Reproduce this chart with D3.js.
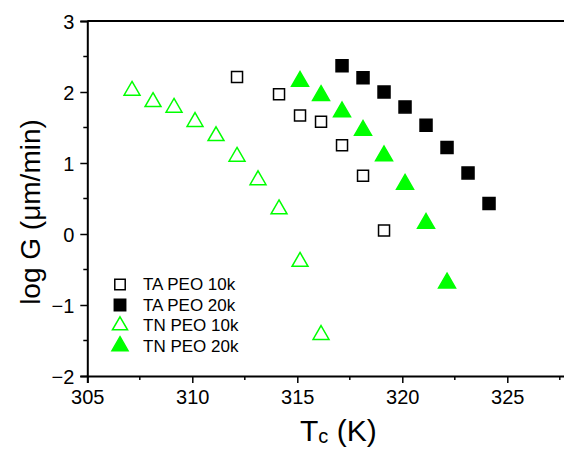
<!DOCTYPE html>
<html><head><meta charset="utf-8">
<script src="https://cdn.jsdelivr.net/npm/d3@7"></script>
<style>body{margin:0;background:#fff}svg{display:block;font-family:Arial,"Liberation Sans",sans-serif}</style>
</head><body><svg id="c" width="564" height="449"></svg>
<script>
const taPeo10kX = [312.13, 314.13, 315.13, 316.13, 317.13, 318.13, 319.13];
const taPeo10kY = [2.21, 1.97, 1.67, 1.58, 1.25, 0.82, 0.05];
const taPeo20kX = [317.13, 318.13, 319.13, 320.13, 321.13, 322.13, 323.13, 324.13];
const taPeo20kY = [2.37, 2.20, 2.00, 1.79, 1.53, 1.22, 0.86, 0.43];
const tnPeo10kX = [307.13, 308.13, 309.13, 310.13, 311.13, 312.13, 313.13, 314.13, 315.13, 316.13];
const tnPeo10kY = [2.02, 1.86, 1.78, 1.58, 1.38, 1.09, 0.76, 0.35, -0.39, -1.42];
const tnPeo20kX = [315.13, 316.13, 317.13, 318.13, 319.13, 320.13, 321.13, 322.13];
const tnPeo20kY = [2.15, 1.95, 1.72, 1.46, 1.10, 0.70, 0.15, -0.69];
const xTicks = [305, 310, 315, 320, 325];
const yTicks = [-2, -1, 0, 1, 2, 3];
const legendLabels = ["TA PEO 10k", "TA PEO 20k", "TN PEO 10k", "TN PEO 20k"];

const svg = d3.select("#c");
const L = 87.3, T = 21, B = 376;
const x = d3.scaleLinear().domain([305, 328]).range([L, L + 23 * 21]);
const y = d3.scaleLinear().domain([-2, 3]).range([B, T]);
const green = "#00ff00";

const series = [
  {xs: taPeo10kX, ys: taPeo10kY, type: d3.symbolSquare, fill: "#fff", stroke: "#000", size: 121},
  {xs: taPeo20kX, ys: taPeo20kY, type: d3.symbolSquare, fill: "#000", stroke: "#000", size: 144},
  {xs: tnPeo10kX, ys: tnPeo10kY, type: d3.symbolTriangle, fill: "#fff", stroke: green, size: 110},
  {xs: tnPeo20kX, ys: tnPeo20kY, type: d3.symbolTriangle, fill: green, stroke: green, size: 125}
];

// axes
const xAxis = d3.axisBottom(x).tickValues(xTicks).tickFormat(d3.format("d")).tickSize(7).tickPadding(7);
const yAxis = d3.axisLeft(y).tickValues(yTicks).tickFormat(d3.format("d")).tickSize(7).tickPadding(6);
const gx = svg.append("g").attr("transform", `translate(0,${B})`).call(xAxis);
const gy = svg.append("g").attr("transform", `translate(${L},0)`).call(yAxis);
[gx, gy].forEach(g => {
  g.select(".domain").attr("stroke", "#000").attr("stroke-width", 2);
  g.selectAll(".tick line").attr("stroke", "#000").attr("stroke-width", 1.5);
  g.selectAll(".tick text").attr("font-size", 20).attr("fill", "#000").attr("font-family", "Arial, 'Liberation Sans', sans-serif");
});
gy.selectAll(".tick text").attr("dy", "0.36em");
// minor ticks
const xMinor = d3.range(307.5, 328, 5);
svg.append("g").selectAll("line").data(xMinor).join("line")
  .attr("x1", d => x(d)).attr("x2", d => x(d)).attr("y1", B).attr("y2", B + 4)
  .attr("stroke", "#000").attr("stroke-width", 1.5);
const yMinor = d3.range(-1.5, 3, 1);
svg.append("g").selectAll("line").data(yMinor).join("line")
  .attr("x1", L - 4).attr("x2", L).attr("y1", d => y(d)).attr("y2", d => y(d))
  .attr("stroke", "#000").attr("stroke-width", 1.5);
// top frame
svg.append("line").attr("x1", L).attr("x2", x(328)).attr("y1", T).attr("y2", T)
  .attr("stroke", "#000").attr("stroke-width", 2);

// data
series.forEach(s => {
  const sym = d3.symbol().type(s.type).size(s.size);
  svg.append("g").selectAll("path").data(s.xs.map((v, i) => [v, s.ys[i]])).join("path")
    .attr("d", sym)
    .attr("transform", d => `translate(${x(d[0])},${y(d[1])})`)
    .attr("fill", s.fill).attr("stroke", s.stroke).attr("stroke-width", 1.5);
});

// legend
const lg = svg.append("g");
legendLabels.forEach((t, i) => {
  const s = series[i];
  const cy = 284.5 + i * 20.5;
  lg.append("path").attr("d", d3.symbol().type(s.type).size(s.size * 0.9)())
    .attr("transform", `translate(120,${cy})`)
    .attr("fill", s.fill).attr("stroke", s.stroke).attr("stroke-width", 1.5);
  lg.append("text").attr("x", 143).attr("y", cy + 5.8)
    .attr("font-size", 17).attr("fill", "#000").text(t);
});

// titles
const xt = svg.append("text").attr("x", 300).attr("y", 441).attr("font-size", 30).attr("fill", "#000");
xt.append("tspan").text("T");
xt.append("tspan").attr("font-size", 20).attr("dy", 2).text("c");
xt.append("tspan").attr("dy", -2).text(" (K)");
svg.append("text").attr("transform", "translate(40,212) rotate(-90)").attr("text-anchor", "middle")
  .attr("font-size", 28).attr("fill", "#000").text("log G (\u03bcm/min)");
</script></body></html>
